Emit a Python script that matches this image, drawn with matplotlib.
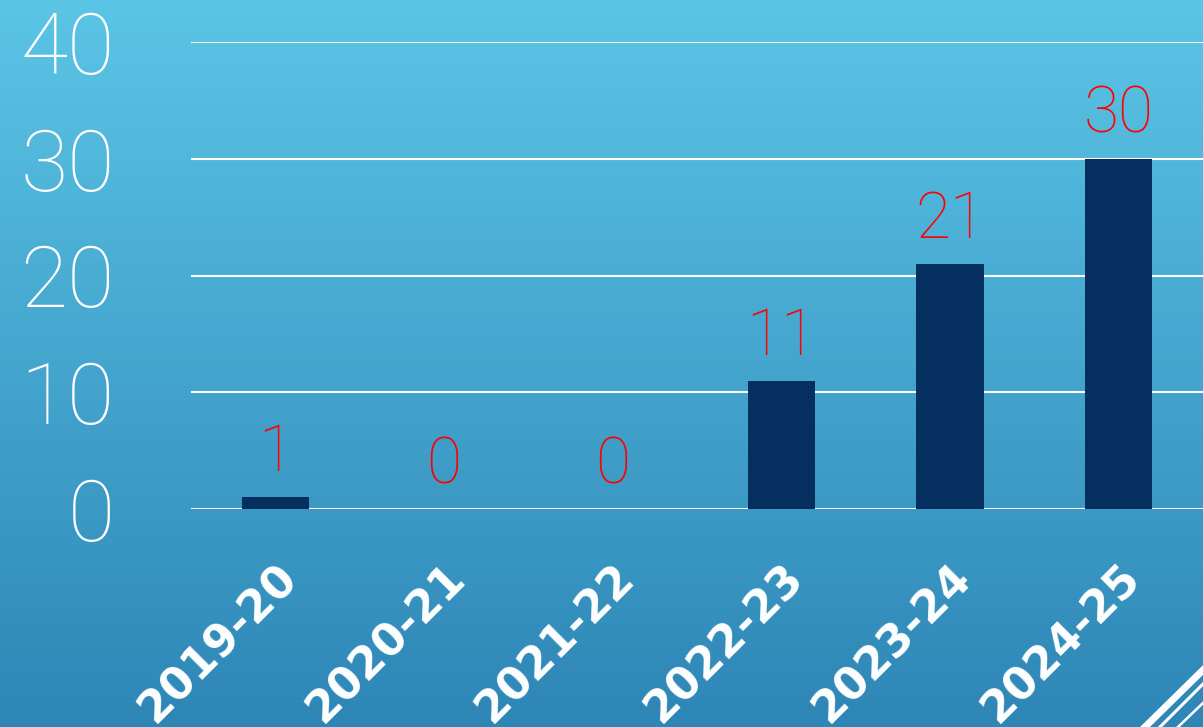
import numpy as np
import matplotlib
matplotlib.use('Agg')
import matplotlib.pyplot as plt
from matplotlib.lines import Line2D

# Données
saisons = ["2019-20", "2020-21", "2021-22", "2022-23", "2023-24", "2024-25"]
valeurs = [1, 0, 0, 11, 21, 30]
graduations = [0, 10, 20, 30, 40]

police = ['Roboto', 'DejaVu Sans']

fig = plt.figure(figsize=(12.03, 7.27), dpi=100)

# Fond en dégradé
fond = fig.add_axes([0, 0, 1, 1], zorder=0)
haut = np.array([0x5B, 0xC5, 0xE6]) / 255
bas = np.array([0x2E, 0x86, 0xB6]) / 255
t = np.linspace(0, 1, 256)[:, None]
grad = haut[None, :] * (1 - t) + bas[None, :] * t
grad = np.repeat(grad[:, None, :], 2, axis=1)
fond.imshow(grad, aspect='auto', extent=[0, 1, 0, 1])
fond.axis('off')

# Décoration coin bas droit
for (x0, y0, x1, y1, lw) in [(1203, 670, 1145, 727, 5), (1203, 684, 1160, 727, 2.2), (1203, 703, 1178, 727, 1.8)]:
    fig.add_artist(Line2D([x0 / 1203, x1 / 1203], [1 - y0 / 727, 1 - y1 / 727],
                          color='white', lw=lw, transform=fig.transFigure, zorder=1))

ax = fig.add_axes([191 / 1203, 218 / 727, 1 - 191 / 1203, (685 - 218) / 727], zorder=2)
ax.patch.set_alpha(0)

x = np.arange(len(saisons))
ax.bar(x, valeurs, width=0.4, color='#052F5F', zorder=3)

# Étiquettes de valeurs en rouge
for xi, v in zip(x, valeurs):
    ax.text(xi, v + 1.1, str(v), ha='center', va='bottom', color='#FF0000',
            fontsize=46, family=police, fontweight='light')

ax.set_xlim(-0.5, 5.5)
ax.set_ylim(0, 40)
ax.set_yticks(graduations)
ax.set_yticklabels([str(g) for g in graduations], fontsize=62, color='white',
                   family=police, fontweight='light')
ax.set_xticks(x)
ax.set_xticklabels(saisons, rotation=45, ha='right', rotation_mode='anchor',
                   fontsize=32, fontweight='bold', color='white')
ax.tick_params(axis='y', length=0, pad=55)
ax.tick_params(axis='x', length=0, pad=34)
ax.yaxis.grid(True, color='white', lw=1.5, zorder=1)
ax.set_axisbelow(True)
for s in ax.spines.values():
    s.set_visible(False)

plt.savefig("out.png", dpi=100)
